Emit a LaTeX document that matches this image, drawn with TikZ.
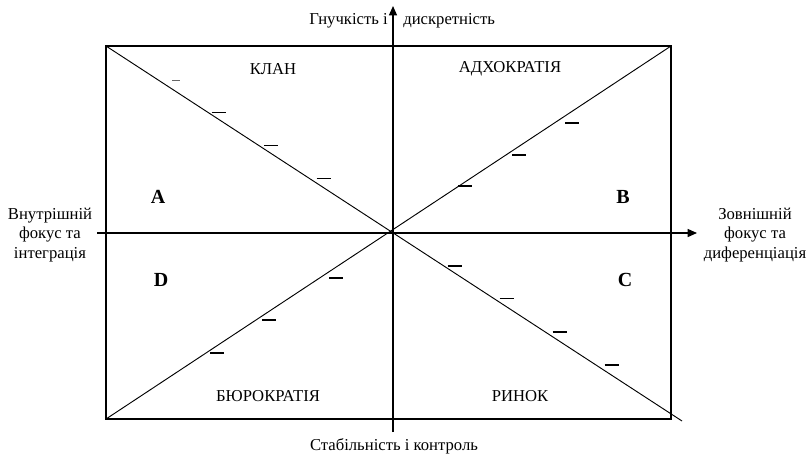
\documentclass[tikz,border=0pt]{standalone}
\usepackage{fontspec}
\setmainfont{Liberation Serif}
\usetikzlibrary{arrows.meta}
\begin{document}
\begin{tikzpicture}[x=0.75pt,y=-0.75pt,
 lbl/.style={font=\fontsize{12.5}{14.8}\selectfont, inner sep=0pt, align=center},
 quad/.style={font=\fontsize{15}{18}\selectfont\bfseries, inner sep=0pt},
 frame/.style={line width=1pt},
 axis/.style={line width=1pt,-{Triangle[length=7pt,width=6pt]}},
 diag/.style={line width=0.7pt},
 tick/.style={line width=1.1pt}]
\useasboundingbox (0,0) rectangle (806,455);
\coordinate (TL) at (106,46);
\coordinate (TR) at (671,46);
\coordinate (BR) at (671,419);
\coordinate (BL) at (106,419);
\draw[frame] (TL) rectangle (BR);
\coordinate (vtop) at (393,6);
\coordinate (vbot) at (393,432);
\coordinate (hl) at (97,233);
\coordinate (hr) at (697,233);
\draw[axis] (vbot) -- (vtop);
\draw[axis] (hl) -- (hr);
\coordinate (dEnd) at (682,421);
\draw[diag] (TL) -- (dEnd);
\draw[diag] (BL) -- (TR);
\foreach \x/\y in {218.7/112.3, 271/145.7, 323.7/178.3,
                   465/186, 519/155, 572/123,
                   336/278, 269/320, 217/353,
                   454.5/266, 506.5/298.7, 559.5/332, 611.5/365}
  \draw[tick] ({\x-7},\y) -- ({\x+7},\y);
\draw[line width=0.4pt, black!60] (172,80) -- (180,80);
\node[lbl, anchor=base east] (flexL) at (388,24) {Гнучкість і};
\node[lbl, anchor=base west] (flexR) at (403,24) {дискретність};
\node[lbl] (stab) at (394,446) {Стабільність і контроль};
\node[lbl] (inner) at (50,235) {Внутрішній\\фокус та\\інтеграція};
\node[lbl] (outer) at (755,235) {Зовнішній\\фокус та\\диференціація};
\node[lbl] (clan) at (273,69) {КЛАН};
\node[lbl] (adho) at (510,69) {АДХОКРАТІЯ};
\node[lbl] (bur) at (268,396) {БЮРОКРАТІЯ};
\node[lbl] (mkt) at (520,396) {РИНОК};
\node[quad] (A) at (158,197) {A};
\node[quad] (B) at (623,197) {B};
\node[quad] (D) at (161,280) {D};
\node[quad] (C) at (625,280) {C};
\end{tikzpicture}
\end{document}
